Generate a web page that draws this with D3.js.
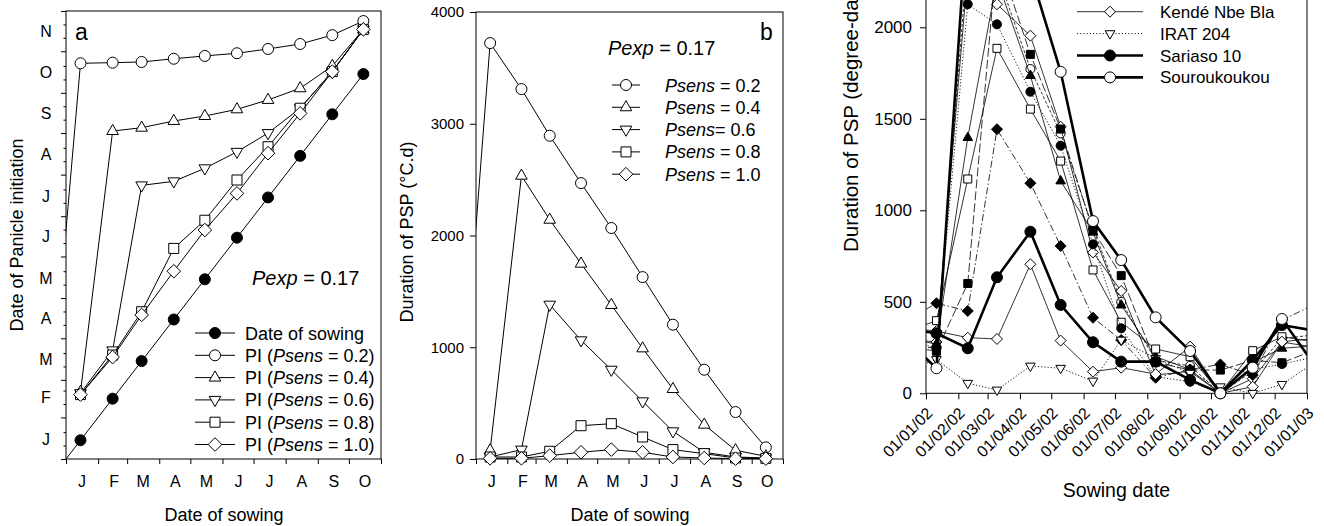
<!DOCTYPE html>
<meta charset="utf-8">
<style>
body { margin: 0; background: #fff; }
text { font-family: 'Liberation Sans', Arial, sans-serif; fill: #000; }
.tick line { stroke: #000; }
</style>
<body>
<script src="https://d3js.org/d3.v7.min.js"></script>
<script>

const parse = d3.utcParse("%Y-%m-%d");
const monthLetters = ["J", "F", "M", "A", "M", "J", "J", "A", "S", "O", "N"];

// ---- panels a and b: sowing on the 15th, first point is the previous December
const sowAB = ["2001-12-15", "2002-01-15", "2002-02-15", "2002-03-15", "2002-04-15", "2002-05-15",
               "2002-06-15", "2002-07-15", "2002-08-15", "2002-09-15", "2002-10-15"];

// panel a: panicle initiation, days after 1 Jan 2002
const piPsens02 = [20, 295, 295.5, 296, 298.4, 300.5, 302.5, 305.7, 309.4, 316, 326.5];
const piPsens04 = [null, 50, 244.5, 247, 252, 255.7, 260.7, 267.7, 276.4, 293, 320.3];
const piPsens06 = [null, 49, 81, 204, 207, 216.7, 229, 243, 261.5, 288.8, 320.3];
const piPsens08 = [null, 48, 77.5, 109.8, 157, 178, 208, 232.8, 261.5, 288.8, 320.3];
const piPsens10 = [null, 48, 76, 107.4, 140, 170.7, 198, 228, 257.7, 288.8, 320.3];

// panel b: duration of PSP (°C.d)
const pspPsens02 = [90, 3722, 3310, 2893, 2469, 2067, 1628, 1202, 799, 420, 104];
const pspPsens04 = [null, 78, 2535, 2141, 1748, 1378, 990, 626, 307, 78, 24];
const pspPsens06 = [null, 18, 84, 1381, 1062, 799, 516, 248, 60, 18, 9];
const pspPsens08 = [null, 18, 18, 69, 298, 316, 197, 84, 48, 9, 6];
const pspPsens10 = [null, 6, 6, 30, 60, 84, 60, 18, 9, 3, 3];

// ---- panel c: observed durations per sowing date
const sowC = ["2001-12-10", "2002-01-11", "2002-02-10", "2002-03-10", "2002-04-11", "2002-05-10", "2002-06-10",
              "2002-07-07", "2002-08-09", "2002-09-11", "2002-10-10", "2002-11-10", "2002-12-08", "2003-01-10"];
const kendeNbeBla  = [360, 340, 304, 297, 705, 288, 118, 140, 105, 255, 0, 36, 282, 300];
const irat204      = [118, 185, 55, 18, 149, 137, 67, 291, 190, 110, 36, 0, 49, 175];
const sariaso10    = [355, 328, 246, 634, 883, 483, 279, 173, 173, 73, 0, 182, 373, 340];
const souroukoukou = [310, 137, 2650, 2550, 2300, 1757, 941, 728, 415, 231, 0, 140, 406, 140];
// cultivars whose legend rows are above the visible area
const cvFilledCircle   = [300, 246, 2126, 2016, 1648, 1353, 814, 355, 91, 63, 0, 130, 160, 200];
const cvFilledDiamond  = [386, 492, 450, 1443, 1148, 805, 413, 291, 85, 130, 158, 100, 400, 490];
const cvOpenSquare     = [330, 397, 1171, 1885, 1553, 1269, 674, 388, 242, 200, 0, 233, 309, 280];
const cvFilledTriangle = [300, 270, 1397, 2260, 1736, 1160, 880, 482, 200, 130, 0, 170, 246, 260];
const cvFilledSquare   = [260, 230, 600, 2400, 1852, 1444, 892, 643, 170, 127, 127, 180, 167, 240];
const cvOpenCircle     = [250, 250, 2400, 2300, 1772, 1420, 900, 500, 180, 150, 0, 120, 300, 320];
const cvOpenDiamond    = [300, 280, 2300, 2126, 1954, 1457, 770, 559, 100, 120, 0, 80, 280, 250];

const yTicksB = [0, 1000, 2000, 3000, 4000];
const yTicksC = [0, 500, 1000, 1500, 2000, 2500];

const svg = d3.select("body").append("svg")
    .attr("width", 1324)
    .attr("height", 526);

// marker path around 0,0
function markerPath(shape, r) {
  if (shape == "circle") return `M${r},0A${r},${r} 0 1,1 ${-r},0A${r},${r} 0 1,1 ${r},0Z`;
  if (shape == "up") return `M0,${-r * 1.15}L${r},${r * 0.6}L${-r},${r * 0.6}Z`;
  if (shape == "down") return `M0,${r * 1.15}L${r},${-r * 0.6}L${-r},${-r * 0.6}Z`;
  if (shape == "square") return `M${-r},${-r}H${r}V${r}H${-r}Z`;
  if (shape == "diamond") return `M0,${-r}L${r},0L0,${r}L${-r},0Z`;
}

function clipRect(id, x, y, w, h) {
  svg.append("clipPath").attr("id", id)
    .append("rect").attr("x", x).attr("y", y).attr("width", w).attr("height", h);
}

function drawSeries(g, pts, st) {
  const line = d3.line().defined(d => d[1] != null).x(d => d[0]).y(d => d[1]);
  g.append("path")
      .attr("d", line(pts))
      .attr("fill", "none")
      .attr("stroke", "#000")
      .attr("stroke-width", st.width || 1)
      .attr("stroke-dasharray", st.dash || null);
  g.append("g").selectAll("path")
    .data(pts.filter(d => d[1] != null))
    .join("path")
      .attr("transform", d => `translate(${d[0]},${d[1]})`)
      .attr("d", markerPath(st.shape, st.r))
      .attr("fill", st.fill)
      .attr("stroke", "#000")
      .attr("stroke-width", 1);
}

function legendRow(x0, x1, y, st) {
  svg.append("line").attr("x1", x0).attr("x2", x1).attr("y1", y).attr("y2", y)
      .attr("stroke", "#000").attr("stroke-width", st.width || 1)
      .attr("stroke-dasharray", st.dash || null);
  svg.append("path").attr("transform", `translate(${(x0 + x1) / 2},${y})`)
      .attr("d", markerPath(st.shape, st.r))
      .attr("fill", st.fill).attr("stroke", "#000");
}

function italicLabel(x, y, size, parts) {
  const t = svg.append("text").attr("x", x).attr("y", y).attr("font-size", size);
  parts.forEach(p => t.append("tspan").attr("font-style", p[1] ? "italic" : "normal").text(p[0]));
}

// ================= panel a =================
const jan1 = parse("2002-01-01");
const dayToDate = v => new Date(jan1.getTime() + v * 864e5);
const monthsAB = d3.utcMonth.range(jan1, parse("2002-11-02"));
const midsAB = d3.utcMonth.range(jan1, parse("2002-11-01")).map(d => d3.utcDay.offset(d, 15));

const xA = d3.scaleUtc().domain([jan1, parse("2002-11-01")]).range([66, 381]);
const yA = d3.scaleUtc().domain([jan1, parse("2002-12-01")]).range([459, 11]);

const gA = svg.append("g");
gA.append("g").attr("transform", "translate(0,459)")
  .call(d3.axisBottom(xA).tickValues(monthsAB).tickSize(5).tickFormat(""))
  .call(g => g.select(".domain").remove());
gA.append("g").attr("transform", "translate(0,459)")
  .call(d3.axisBottom(xA).tickValues(midsAB).tickSize(0).tickPadding(17)
        .tickFormat((d, i) => monthLetters[i]))
  .call(g => g.select(".domain").remove())
  .selectAll("text").attr("font-size", 16).attr("font-family", null);

gA.append("g").attr("transform", "translate(66,0)")
  .call(d3.axisLeft(yA).tickValues(d3.utcMonth.range(jan1, parse("2002-12-02"))).tickSize(5).tickFormat(""))
  .call(g => g.select(".domain").remove());
gA.append("g").attr("transform", "translate(66,0)")
  .call(d3.axisLeft(yA).tickValues(d3.utcDay.range(jan1, parse("2002-12-01"))
        .filter(d => d.getUTCDate() == 11 || d.getUTCDate() == 21)).tickSize(2.5).tickFormat(""))
  .call(g => g.select(".domain").remove());
gA.append("g").attr("transform", "translate(66,0)")
  .call(d3.axisLeft(yA).tickValues(d3.utcMonth.range(jan1, parse("2002-12-01")).map(d => d3.utcDay.offset(d, 15)))
        .tickSize(0).tickPadding(20).tickFormat((d, i) => "JFMAMJJASON"[i]))
  .call(g => g.select(".domain").remove())
  .selectAll("text").attr("font-size", 16).attr("font-family", null).attr("text-anchor", "middle");

gA.append("rect").attr("x", 66).attr("y", 11).attr("width", 315).attr("height", 448)
    .attr("fill", "none").attr("stroke", "#000");

clipRect("clipA", 66, 3, 320, 464);
const plotA = gA.append("g").attr("clip-path", "url(#clipA)");
const sowDates = sowAB.map(parse);
const stylesAB = [
  {shape: "circle", r: 5.5, fill: "#fff"},
  {shape: "up", r: 5.8, fill: "#fff"},
  {shape: "down", r: 5.8, fill: "#fff"},
  {shape: "square", r: 5, fill: "#fff"},
  {shape: "diamond", r: 6.8, fill: "#fff"}
];
drawSeries(plotA, sowDates.map(d => [xA(d), yA(d)]), {shape: "circle", r: 5.5, fill: "#000"});
[piPsens02, piPsens04, piPsens06, piPsens08, piPsens10].forEach((vals, k) => {
  drawSeries(plotA, vals.map((v, i) => [xA(sowDates[i]), v == null ? null : yA(dayToDate(v))]), stylesAB[k]);
});

svg.append("text").attr("x", 75).attr("y", 40).attr("font-size", 23).text("a");
italicLabel(252, 285, 20, [["Pexp", true], [" = 0.17", false]]);

const legA = ["Date of sowing", "0.2", "0.4", "0.6", "0.8", "1.0"];
legA.forEach((lab, i) => {
  const y = 333 + i * 22.3;
  legendRow(195, 235, y, i == 0 ? {shape: "circle", r: 5.5, fill: "#000"} : stylesAB[i - 1]);
  if (i == 0) italicLabel(245, y + 6.5, 18, [[lab, false]]);
  else italicLabel(245, y + 6.5, 18, [["PI (", false], ["Psens", true], [" = " + lab + ")", false]]);
});

svg.append("text").attr("transform", "translate(23,235) rotate(-90)")
    .attr("text-anchor", "middle").attr("font-size", 18).text("Date of Panicle initiation");
svg.append("text").attr("x", 224).attr("y", 521)
    .attr("text-anchor", "middle").attr("font-size", 18).text("Date of sowing");

// ================= panel b =================
const xB = d3.scaleUtc().domain([jan1, parse("2002-11-01")]).range([476, 783]);
const yB = d3.scaleLinear().domain([0, 4000]).range([459, 12]);

const gB = svg.append("g");
gB.append("g").attr("transform", "translate(0,459)")
  .call(d3.axisBottom(xB).tickValues(monthsAB).tickSize(5).tickFormat(""))
  .call(g => g.select(".domain").remove());
gB.append("g").attr("transform", "translate(0,459)")
  .call(d3.axisBottom(xB).tickValues(midsAB.slice(0, 10)).tickSize(0).tickPadding(17)
        .tickFormat((d, i) => monthLetters[i]))
  .call(g => g.select(".domain").remove())
  .selectAll("text").attr("font-size", 16).attr("font-family", null);
gB.append("g").attr("transform", "translate(476,0)")
  .call(d3.axisLeft(yB).tickValues(yTicksB).tickSize(6).tickPadding(6).tickFormat(d3.format("d")))
  .call(g => g.select(".domain").remove())
  .selectAll("text").attr("font-size", 15).attr("font-family", null);

gB.append("rect").attr("x", 476).attr("y", 12).attr("width", 307).attr("height", 447)
    .attr("fill", "none").attr("stroke", "#000");

clipRect("clipB", 476, 4, 312, 463);
const plotB = gB.append("g").attr("clip-path", "url(#clipB)");
[pspPsens02, pspPsens04, pspPsens06, pspPsens08, pspPsens10].forEach((vals, k) => {
  drawSeries(plotB, vals.map((v, i) => [xB(sowDates[i]), v == null ? null : yB(v)]), stylesAB[k]);
});

svg.append("text").attr("x", 760).attr("y", 40).attr("font-size", 23).text("b");
italicLabel(608, 55, 20, [["Pexp", true], [" = 0.17", false]]);
["Psens = 0.2", "Psens = 0.4", "Psens= 0.6", "Psens = 0.8", "Psens = 1.0"].forEach((lab, i) => {
  const y = 85 + i * 22.3;
  legendRow(612, 640, y, stylesAB[i]);
  italicLabel(665, y + 6.5, 18, [["Psens", true], [lab.slice(5), false]]);
});

svg.append("text").attr("transform", "translate(413,232) rotate(-90)")
    .attr("text-anchor", "middle").attr("font-size", 18).text("Duration of PSP (°C.d)");
svg.append("text").attr("x", 630).attr("y", 521)
    .attr("text-anchor", "middle").attr("font-size", 18).text("Date of sowing");

// ================= panel c =================
const xC = d3.scaleUtc().domain([jan1, parse("2003-01-01")]).range([926, 1307]);
const yC = d3.scaleLinear().domain([0, 2500]).range([393.3, -64.2]);
const monthsC = d3.utcMonth.range(jan1, parse("2003-01-02"));

const gC = svg.append("g");
gC.append("g").attr("transform", "translate(0,393.3)")
  .call(d3.axisBottom(xC).tickValues(monthsC).tickSize(6).tickFormat(d3.utcFormat("%d/%m/%y")))
  .call(g => g.select(".domain").remove())
  .selectAll("text")
    .attr("font-size", 16).attr("font-family", null)
    .attr("text-anchor", "end")
    .attr("x", 0).attr("y", 0).attr("dy", "0.35em")
    .attr("transform", "translate(3,17) rotate(-45)");
gC.append("g").attr("transform", "translate(926,0)")
  .call(d3.axisLeft(yC).tickValues(yTicksC).tickSize(6).tickPadding(8).tickFormat(d3.format("d")))
  .call(g => g.select(".domain").remove())
  .selectAll("text").attr("font-size", 17).attr("font-family", null);

gC.append("rect").attr("x", 926).attr("y", -64.2).attr("width", 381).attr("height", 457.5)
    .attr("fill", "none").attr("stroke", "#000");

clipRect("clipC", 926, -100, 381, 502);
const plotC = gC.append("g").attr("clip-path", "url(#clipC)");
const sowDatesC = sowC.map(parse);
const seriesC = [
  [cvOpenDiamond,    {shape: "diamond", r: 5.5, fill: "#fff", width: 0.8}],
  [cvOpenCircle,     {shape: "circle", r: 4.5, fill: "#fff", width: 0.8, dash: "3,2"}],
  [cvFilledSquare,   {shape: "square", r: 4, fill: "#000", width: 0.8, dash: "9,3"}],
  [cvFilledTriangle, {shape: "up", r: 4.8, fill: "#000", width: 0.8}],
  [cvOpenSquare,     {shape: "square", r: 4, fill: "#fff", width: 0.8}],
  [cvFilledDiamond,  {shape: "diamond", r: 5.5, fill: "#000", width: 0.8, dash: "7,2.5,1.5,2.5"}],
  [cvFilledCircle,   {shape: "circle", r: 4.5, fill: "#000", width: 0.9, dash: "1.2,2"}],
  [kendeNbeBla,      {shape: "diamond", r: 5.5, fill: "#fff", width: 0.8}],
  [irat204,          {shape: "down", r: 4.8, fill: "#fff", width: 0.9, dash: "1.2,2"}],
  [sariaso10,        {shape: "circle", r: 5.5, fill: "#000", width: 2.6}],
  [souroukoukou,     {shape: "circle", r: 5.5, fill: "#fff", width: 2.6}]
];
seriesC.forEach(([vals, st]) => {
  drawSeries(plotC, vals.map((v, i) => [xC(sowDatesC[i]), yC(v)]), st);
});

const legC = [["Kendé Nbe Bla", 7], ["IRAT 204", 8], ["Sariaso 10", 9], ["Souroukoukou", 10]];
legC.forEach(([lab, k], i) => {
  const y = 11.7 + i * 21.9;
  legendRow(1077, 1143, y, seriesC[k][1]);
  svg.append("text").attr("x", 1160).attr("y", y + 6).attr("font-size", 17).text(lab);
});

svg.append("text").attr("transform", "translate(858,252) rotate(-90)")
    .attr("font-size", 20.5).text("Duration of PSP (degree-days)");
svg.append("text").attr("x", 1116.5).attr("y", 497)
    .attr("text-anchor", "middle").attr("font-size", 19.5).text("Sowing date");

</script>
